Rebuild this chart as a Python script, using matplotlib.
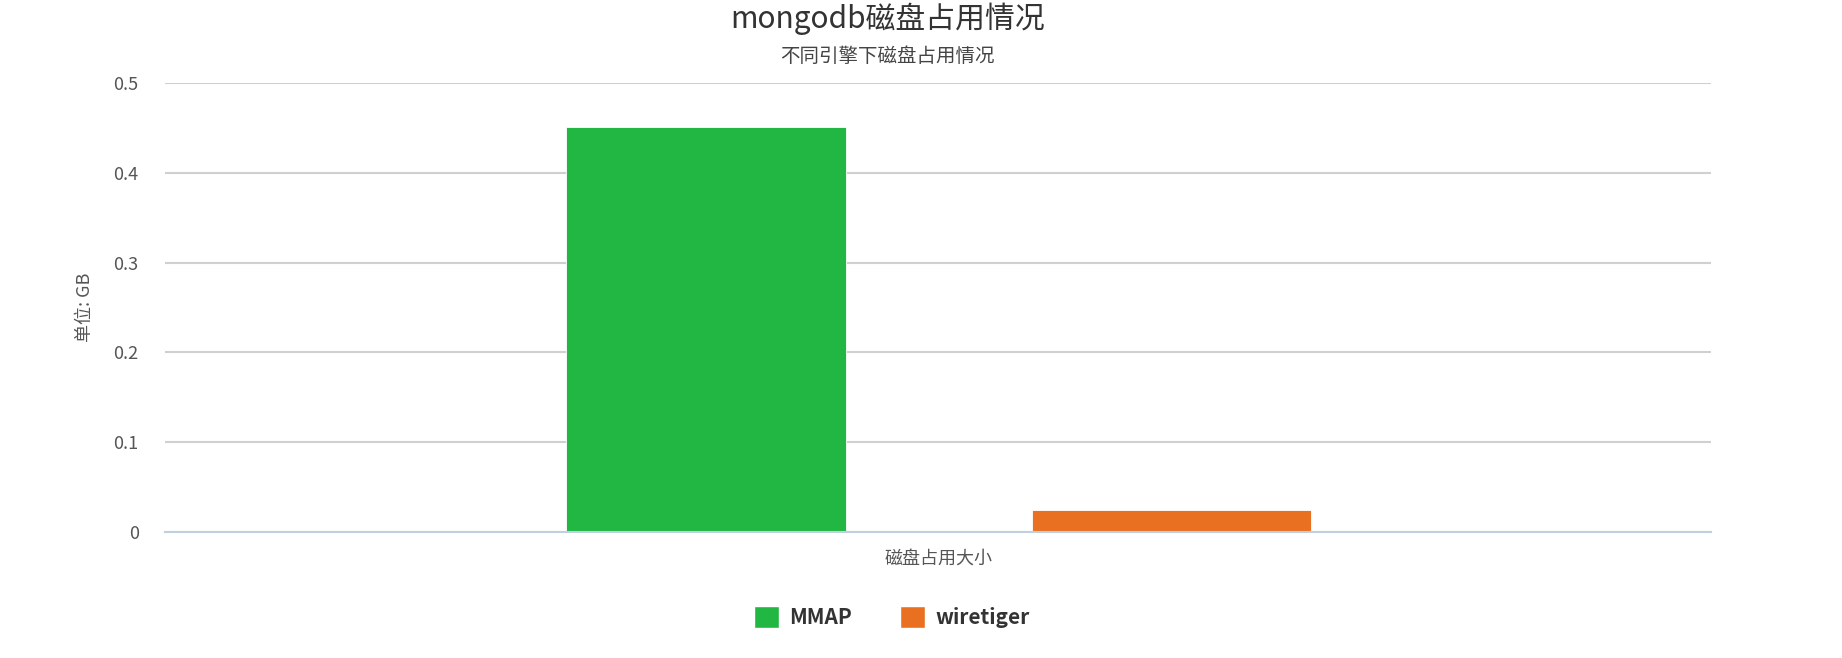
import matplotlib
matplotlib.use("Agg")
import matplotlib.pyplot as plt
import matplotlib.patches as mpatches

plt.rcParams['font.family'] = ['Noto Sans CJK SC', 'DejaVu Sans']

# --- data ---
categories = ['磁盘占用大小']
series_names = ['MMAP', 'wiretiger']
series_values = [[0.451], [0.025]]
series_colors = ['#22b643', '#e97020']
y_ticks = [0, 0.1, 0.2, 0.3, 0.4, 0.5]
y_tick_labels = ['0', '0.1', '0.2', '0.3', '0.4', '0.5']

title = 'mongodb磁盘占用情况'
subtitle = '不同引擎下磁盘占用情况'
y_label = '单位: GB'

fig = plt.figure(figsize=(18.42, 6.58), dpi=100)
ax = fig.add_axes([0.0896, 0.1915, 0.8393, 0.6824])

offsets = [-0.150, 0.151]
bar_w = 0.181
for i, name in enumerate(series_names):
    xs = [j + offsets[i] for j in range(len(categories))]
    ax.bar(xs, series_values[i], width=bar_w, color=series_colors[i],
           edgecolor='white', linewidth=0.6, zorder=3, label=name)

ax.set_xlim(-0.5, len(categories) - 0.5)
ax.set_ylim(0, 0.5)
ax.set_yticks(y_ticks)
ax.set_yticklabels(y_tick_labels)
ax.set_xticks(range(len(categories)))
ax.set_xticklabels(categories)
ax.tick_params(axis='y', length=0, pad=19, labelsize=13, labelcolor='#555555')
ax.tick_params(axis='x', length=0, pad=13, labelsize=13, labelcolor='#555555')
ax.grid(axis='y', color='#d0d0d0', linewidth=1.5, zorder=0)
ax.set_axisbelow(True)
for s in ['top', 'right', 'left']:
    ax.spines[s].set_visible(False)
ax.spines['bottom'].set_color('#c0d0e0')
ax.spines['bottom'].set_linewidth(1.5)
ax.spines['bottom'].set_zorder(4)

ax.set_ylabel(y_label, fontsize=13, color='#555555')
ax.yaxis.set_label_coords(-0.046, 0.5)

fig.text(0.482, 1 - 19 / 658, title, ha='center', va='center', fontsize=21.5, color='#333333')
fig.text(0.482, 1 - 56 / 658, subtitle, ha='center', va='center', fontsize=14, color='#444444')

handles = [mpatches.Patch(facecolor=c, edgecolor='white', label=n)
           for n, c in zip(series_names, series_colors)]
leg = fig.legend(handles=handles, loc='center', bbox_to_anchor=(0.484, 1 - 617 / 658),
                 ncol=2, frameon=False, handlelength=1.2, handleheight=1.2,
                 handletextpad=0.5, columnspacing=2.3,
                 prop={'size': 15, 'weight': 'bold'})
for t in leg.get_texts():
    t.set_color('#333333')

fig.savefig('out.png', dpi=100, facecolor='white')
